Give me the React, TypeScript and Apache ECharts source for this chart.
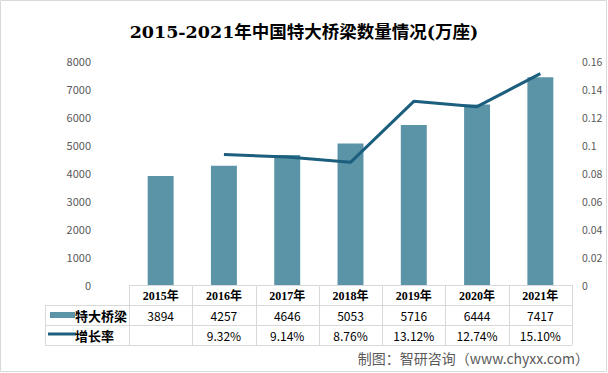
import React, { useEffect, useRef } from "react";
import * as echarts from "echarts";

const years = ["2015年", "2016年", "2017年", "2018年", "2019年", "2020年", "2021年"];
const bridgeCounts = [3894, 4257, 4646, 5053, 5716, 6444, 7417];
const growthRates: (number | null)[] = [null, 0.0932, 0.0914, 0.0876, 0.1312, 0.1274, 0.151];
const growthLabels = ["", "9.32%", "9.14%", "8.76%", "13.12%", "12.74%", "15.10%"];
const seriesNames = ["特大桥梁", "增长率"];

const BAR_COLOR = "#5b93a7";
const LINE_COLOR = "#1b5e7e";
const CJK = "'Noto Sans CJK SC', 'Noto Sans', sans-serif";
const SERIF = "'Liberation Serif', 'Noto Sans CJK SC', serif";

export default function App() {
  const ref = useRef<HTMLDivElement>(null);
  useEffect(() => {
    if (!ref.current) return;
    const chart = echarts.init(ref.current, null, { renderer: "svg" });
    const gridLeft = 129;
    const gridRight = 36;
    const gridTop = 61;
    const gridBottom = 88;
    chart.setOption({
      animation: false,
      backgroundColor: "#ffffff",
      title: {
        text: "2015-2021年中国特大桥梁数量情况(万座)",
        left: "center",
        top: 18,
        textStyle: { fontFamily: "'DejaVu Serif', 'Noto Sans CJK SC', serif", fontSize: 17.5, fontWeight: "bold", color: "#000" },
      },
      grid: { left: gridLeft, right: gridRight, top: gridTop, bottom: gridBottom },
      xAxis: {
        type: "category",
        data: years,
        axisLine: { show: false },
        axisTick: { show: false },
        axisLabel: { show: false },
      },
      yAxis: [
        {
          type: "value",
          min: 0,
          max: 8000,
          interval: 1000,
          splitLine: { show: false },
          axisLine: { show: false },
          axisTick: { show: false },
          axisLabel: { color: "#595959", fontSize: 11, fontFamily: CJK, margin: 38, formatter: (v: number) => String(v) },
        },
        {
          type: "value",
          min: 0,
          max: 0.16,
          interval: 0.02,
          splitLine: { show: false },
          axisLine: { show: false },
          axisTick: { show: false },
          axisLabel: { color: "#595959", fontSize: 10.5, fontFamily: CJK, margin: 10, formatter: (v: number) => String(Math.round(v * 100) / 100) },
        },
      ],
      series: [
        {
          name: seriesNames[0],
          type: "bar",
          data: bridgeCounts,
          barWidth: "41%",
          itemStyle: { color: BAR_COLOR },
        },
        {
          name: seriesNames[1],
          type: "line",
          yAxisIndex: 1,
          data: growthRates,
          showSymbol: false,
          symbol: "none",
          lineStyle: { color: LINE_COLOR, width: 3 },
          itemStyle: { color: LINE_COLOR },
        },
      ],
    });

    const centers = years.map((_, i) => chart.convertToPixel({ xAxisIndex: 0 }, i) as number);
    const step = centers.length > 1 ? centers[1] - centers[0] : 63;
    const tableLeft = 45;
    const colLeft = centers[0] - step / 2;
    const tableRight = centers[centers.length - 1] + step / 2;
    const rowY = [285, 305, 325, 345];
    const border = "#d9d9d9";
    const elements: any[] = [];
    elements.push({ type: "line", shape: { x1: colLeft, y1: rowY[0] + 0.5, x2: tableRight, y2: rowY[0] + 0.5 }, style: { stroke: border, lineWidth: 1 } });
    for (let r = 1; r < rowY.length; r++) {
      elements.push({ type: "line", shape: { x1: tableLeft, y1: rowY[r] + 0.5, x2: tableRight, y2: rowY[r] + 0.5 }, style: { stroke: border, lineWidth: 1 } });
    }
    elements.push({ type: "line", shape: { x1: tableLeft + 0.5, y1: rowY[1], x2: tableLeft + 0.5, y2: rowY[3] }, style: { stroke: border, lineWidth: 1 } });
    for (let i = 0; i <= years.length; i++) {
      const x = Math.round(colLeft + i * step) + 0.5;
      elements.push({ type: "line", shape: { x1: x, y1: rowY[0], x2: x, y2: rowY[3] }, style: { stroke: border, lineWidth: 1 } });
    }
    const mid = (a: number, b: number) => (a + b) / 2;
    years.forEach((y, i) => {
      elements.push({
        type: "text",
        x: centers[i],
        y: mid(rowY[0], rowY[1]) + 0.5,
        style: { text: y, fontSize: 12, fontWeight: "bold", fontFamily: SERIF, fill: "#000", align: "center", verticalAlign: "middle" },
      });
      elements.push({
        type: "text",
        x: centers[i],
        y: mid(rowY[1], rowY[2]) + 0.5,
        style: { text: String(bridgeCounts[i]), fontSize: 12, fontFamily: CJK, fill: "#000", align: "center", verticalAlign: "middle" },
      });
      elements.push({
        type: "text",
        x: centers[i],
        y: mid(rowY[2], rowY[3]) + 0.5,
        style: { text: growthLabels[i], fontSize: 12, fontFamily: CJK, fill: "#000", align: "center", verticalAlign: "middle" },
      });
    });
    elements.push({ type: "rect", shape: { x: 50, y: 312, width: 25, height: 6 }, style: { fill: BAR_COLOR } });
    elements.push({ type: "line", shape: { x1: 48, y1: 334, x2: 76, y2: 334 }, style: { stroke: LINE_COLOR, lineWidth: 3 } });
    elements.push({
      type: "text", x: 75, y: mid(rowY[1], rowY[2]) + 0.5,
      style: { text: seriesNames[0], fontSize: 13, fontWeight: "bold", fontFamily: CJK, fill: "#000", verticalAlign: "middle" },
    });
    elements.push({
      type: "text", x: 75, y: mid(rowY[2], rowY[3]) + 0.5,
      style: { text: seriesNames[1], fontSize: 13, fontWeight: "bold", fontFamily: CJK, fill: "#000", verticalAlign: "middle" },
    });
    elements.push({
      type: "text", x: 589, y: 358,
      style: { text: "制图：智研咨询（www.chyxx.com）", fontSize: 14, fontFamily: CJK, fill: "#595959", align: "right", verticalAlign: "middle" },
    });
    elements.push({ type: "rect", shape: { x: 0.5, y: 0.5, width: 606, height: 371 }, style: { fill: "none", stroke: "#d9d9d9", lineWidth: 1 } });
    chart.setOption({ graphic: elements });

    return () => chart.dispose();
  }, []);
  return <div ref={ref} style={{ width: 608, height: 373, position: "absolute", left: 0, top: 0 }} />;
}
